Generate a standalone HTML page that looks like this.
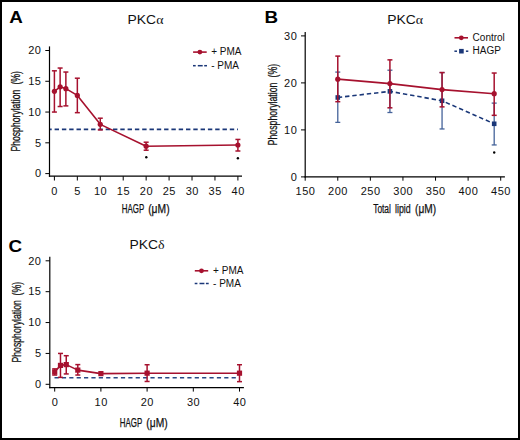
<!DOCTYPE html>
<html><head><meta charset="utf-8"><style>
html,body{margin:0;padding:0;background:#fff;}
body{width:520px;height:440px;overflow:hidden;}
svg{display:block;font-family:"Liberation Sans", sans-serif;}
</style></head><body>
<svg width="520" height="440" viewBox="0 0 520 440">
<rect x="0" y="0" width="520" height="440" fill="#fff"/>
<line x1="49.50" y1="46.40" x2="49.50" y2="176.80" stroke="#000" stroke-width="1.2" />
<line x1="48.90" y1="176.20" x2="242.00" y2="176.20" stroke="#000" stroke-width="1.2" />
<line x1="45.30" y1="173.60" x2="49.50" y2="173.60" stroke="#000" stroke-width="1.0" />
<text x="41.50" y="177.40" font-size="11" letter-spacing="0.5" text-anchor="end" fill="#111">0</text>
<line x1="45.30" y1="142.82" x2="49.50" y2="142.82" stroke="#000" stroke-width="1.0" />
<text x="41.50" y="146.62" font-size="11" letter-spacing="0.5" text-anchor="end" fill="#111">5</text>
<line x1="45.30" y1="112.05" x2="49.50" y2="112.05" stroke="#000" stroke-width="1.0" />
<text x="41.50" y="115.85" font-size="11" letter-spacing="0.5" text-anchor="end" fill="#111">10</text>
<line x1="45.30" y1="81.27" x2="49.50" y2="81.27" stroke="#000" stroke-width="1.0" />
<text x="41.50" y="85.07" font-size="11" letter-spacing="0.5" text-anchor="end" fill="#111">15</text>
<line x1="45.30" y1="50.50" x2="49.50" y2="50.50" stroke="#000" stroke-width="1.0" />
<text x="41.50" y="54.30" font-size="11" letter-spacing="0.5" text-anchor="end" fill="#111">20</text>
<line x1="54.40" y1="176.20" x2="54.40" y2="180.50" stroke="#000" stroke-width="1.0" />
<text x="54.65" y="194.90" font-size="11" letter-spacing="0.5" text-anchor="middle" fill="#111">0</text>
<line x1="77.34" y1="176.20" x2="77.34" y2="180.50" stroke="#000" stroke-width="1.0" />
<text x="77.59" y="194.90" font-size="11" letter-spacing="0.5" text-anchor="middle" fill="#111">5</text>
<line x1="100.28" y1="176.20" x2="100.28" y2="180.50" stroke="#000" stroke-width="1.0" />
<text x="100.53" y="194.90" font-size="11" letter-spacing="0.5" text-anchor="middle" fill="#111">10</text>
<line x1="123.21" y1="176.20" x2="123.21" y2="180.50" stroke="#000" stroke-width="1.0" />
<text x="123.46" y="194.90" font-size="11" letter-spacing="0.5" text-anchor="middle" fill="#111">15</text>
<line x1="146.15" y1="176.20" x2="146.15" y2="180.50" stroke="#000" stroke-width="1.0" />
<text x="146.40" y="194.90" font-size="11" letter-spacing="0.5" text-anchor="middle" fill="#111">20</text>
<line x1="169.09" y1="176.20" x2="169.09" y2="180.50" stroke="#000" stroke-width="1.0" />
<text x="169.34" y="194.90" font-size="11" letter-spacing="0.5" text-anchor="middle" fill="#111">25</text>
<line x1="192.03" y1="176.20" x2="192.03" y2="180.50" stroke="#000" stroke-width="1.0" />
<text x="192.28" y="194.90" font-size="11" letter-spacing="0.5" text-anchor="middle" fill="#111">30</text>
<line x1="214.96" y1="176.20" x2="214.96" y2="180.50" stroke="#000" stroke-width="1.0" />
<text x="215.21" y="194.90" font-size="11" letter-spacing="0.5" text-anchor="middle" fill="#111">35</text>
<line x1="237.90" y1="176.20" x2="237.90" y2="180.50" stroke="#000" stroke-width="1.0" />
<text x="238.15" y="194.90" font-size="11" letter-spacing="0.5" text-anchor="middle" fill="#111">40</text>
<text transform="translate(145.50,24.20) scale(1.07,1)" x="0" y="0" font-size="13" text-anchor="middle" font-weight="normal" fill="#111" >PKC<tspan font-family="Liberation Serif">&#945;</tspan></text>
<text x="121.75" y="213.00" font-size="12" font-weight="normal" textLength="22.50" lengthAdjust="spacingAndGlyphs" fill="#111" stroke="#111" stroke-width="0.25">HAGP</text>
<text x="148.20" y="213.00" font-size="12" font-weight="normal" textLength="21.40" lengthAdjust="spacingAndGlyphs" fill="#111" stroke="#111" stroke-width="0.25">(&#956;M)</text>
<g transform="translate(20.30,0) rotate(-90)"><text x="-151.50" y="0" font-size="12" font-weight="normal" textLength="61.70" lengthAdjust="spacingAndGlyphs" fill="#111" stroke="#111" stroke-width="0.25">Phosphorylation</text></g>
<g transform="translate(20.30,0) rotate(-90)"><text x="-84.60" y="0" font-size="12" font-weight="normal" textLength="13.60" lengthAdjust="spacingAndGlyphs" fill="#111" stroke="#111" stroke-width="0.25">(%)</text></g>
<text transform="translate(16.00,23.20) scale(1.14,1)" x="0" y="0" font-size="16.5" text-anchor="middle" font-weight="bold" fill="#000" >A</text>
<line x1="50.00" y1="129.40" x2="238.00" y2="129.40" stroke="#1a3778" stroke-width="1.6" stroke-dasharray="4.4,2.9" stroke-dashoffset="2.7"/>
<line x1="54.40" y1="70.81" x2="54.40" y2="112.05" stroke="#a6112e" stroke-width="1.5" />
<line x1="51.90" y1="70.81" x2="56.90" y2="70.81" stroke="#a6112e" stroke-width="1.5" />
<line x1="51.90" y1="112.05" x2="56.90" y2="112.05" stroke="#a6112e" stroke-width="1.5" />
<line x1="60.13" y1="68.04" x2="60.13" y2="106.51" stroke="#a6112e" stroke-width="1.5" />
<line x1="57.63" y1="68.04" x2="62.63" y2="68.04" stroke="#a6112e" stroke-width="1.5" />
<line x1="57.63" y1="106.51" x2="62.63" y2="106.51" stroke="#a6112e" stroke-width="1.5" />
<line x1="65.87" y1="72.04" x2="65.87" y2="105.89" stroke="#a6112e" stroke-width="1.5" />
<line x1="63.37" y1="72.04" x2="68.37" y2="72.04" stroke="#a6112e" stroke-width="1.5" />
<line x1="63.37" y1="105.89" x2="68.37" y2="105.89" stroke="#a6112e" stroke-width="1.5" />
<line x1="77.34" y1="78.20" x2="77.34" y2="112.67" stroke="#a6112e" stroke-width="1.5" />
<line x1="74.84" y1="78.20" x2="79.84" y2="78.20" stroke="#a6112e" stroke-width="1.5" />
<line x1="74.84" y1="112.67" x2="79.84" y2="112.67" stroke="#a6112e" stroke-width="1.5" />
<line x1="100.28" y1="118.20" x2="100.28" y2="129.90" stroke="#a6112e" stroke-width="1.5" />
<line x1="97.78" y1="118.20" x2="102.78" y2="118.20" stroke="#a6112e" stroke-width="1.5" />
<line x1="97.78" y1="129.90" x2="102.78" y2="129.90" stroke="#a6112e" stroke-width="1.5" />
<line x1="146.15" y1="142.21" x2="146.15" y2="150.21" stroke="#a6112e" stroke-width="1.5" />
<line x1="143.65" y1="142.21" x2="148.65" y2="142.21" stroke="#a6112e" stroke-width="1.5" />
<line x1="143.65" y1="150.21" x2="148.65" y2="150.21" stroke="#a6112e" stroke-width="1.5" />
<line x1="237.90" y1="139.44" x2="237.90" y2="151.01" stroke="#a6112e" stroke-width="1.5" />
<line x1="235.40" y1="139.44" x2="240.40" y2="139.44" stroke="#a6112e" stroke-width="1.5" />
<line x1="235.40" y1="151.01" x2="240.40" y2="151.01" stroke="#a6112e" stroke-width="1.5" />
<polyline points="54.40,91.31 60.13,86.81 65.87,88.66 77.34,95.43 100.28,124.36 146.15,146.21 237.90,144.98" fill="none" stroke="#a6112e" stroke-width="1.6" stroke-linejoin="round" />
<circle cx="54.40" cy="91.31" r="2.6" fill="#a6112e"/>
<circle cx="60.13" cy="86.81" r="2.6" fill="#a6112e"/>
<circle cx="65.87" cy="88.66" r="2.6" fill="#a6112e"/>
<circle cx="77.34" cy="95.43" r="2.6" fill="#a6112e"/>
<circle cx="100.28" cy="124.36" r="2.6" fill="#a6112e"/>
<circle cx="146.15" cy="146.21" r="2.6" fill="#a6112e"/>
<circle cx="237.90" cy="144.98" r="2.6" fill="#a6112e"/>
<circle cx="146.30" cy="157.30" r="1.2" fill="#000"/>
<circle cx="237.90" cy="158.30" r="1.2" fill="#000"/>
<line x1="193.10" y1="52.10" x2="206.70" y2="52.10" stroke="#a6112e" stroke-width="1.6" />
<circle cx="199.9" cy="52.1" r="2.4" fill="#a6112e"/>
<text x="211.20" y="55.40" font-size="10" text-anchor="start" font-weight="normal" fill="#111" >+ PMA</text>
<line x1="193.00" y1="65.70" x2="195.70" y2="65.70" stroke="#1a3778" stroke-width="1.5" />
<line x1="197.80" y1="65.70" x2="202.70" y2="65.70" stroke="#1a3778" stroke-width="1.5" />
<line x1="204.20" y1="65.70" x2="207.00" y2="65.70" stroke="#1a3778" stroke-width="1.5" />
<text x="211.20" y="68.90" font-size="10" text-anchor="start" font-weight="normal" fill="#111" >- PMA</text>
<line x1="305.20" y1="32.00" x2="305.20" y2="177.50" stroke="#000" stroke-width="1.2" />
<line x1="304.60" y1="176.90" x2="504.90" y2="176.90" stroke="#000" stroke-width="1.2" />
<line x1="301.00" y1="176.90" x2="305.20" y2="176.90" stroke="#000" stroke-width="1.0" />
<text x="297.30" y="180.70" font-size="11" letter-spacing="0.5" text-anchor="end" fill="#111">0</text>
<line x1="301.00" y1="129.90" x2="305.20" y2="129.90" stroke="#000" stroke-width="1.0" />
<text x="297.30" y="133.70" font-size="11" letter-spacing="0.5" text-anchor="end" fill="#111">10</text>
<line x1="301.00" y1="82.90" x2="305.20" y2="82.90" stroke="#000" stroke-width="1.0" />
<text x="297.30" y="86.70" font-size="11" letter-spacing="0.5" text-anchor="end" fill="#111">20</text>
<line x1="301.00" y1="35.90" x2="305.20" y2="35.90" stroke="#000" stroke-width="1.0" />
<text x="297.30" y="39.70" font-size="11" letter-spacing="0.5" text-anchor="end" fill="#111">30</text>
<line x1="305.20" y1="176.90" x2="305.20" y2="180.70" stroke="#000" stroke-width="1.0" />
<text x="305.45" y="195.10" font-size="11" letter-spacing="0.5" text-anchor="middle" fill="#111">150</text>
<line x1="337.78" y1="176.90" x2="337.78" y2="180.70" stroke="#000" stroke-width="1.0" />
<text x="338.03" y="195.10" font-size="11" letter-spacing="0.5" text-anchor="middle" fill="#111">200</text>
<line x1="370.37" y1="176.90" x2="370.37" y2="180.70" stroke="#000" stroke-width="1.0" />
<text x="370.62" y="195.10" font-size="11" letter-spacing="0.5" text-anchor="middle" fill="#111">250</text>
<line x1="402.95" y1="176.90" x2="402.95" y2="180.70" stroke="#000" stroke-width="1.0" />
<text x="403.20" y="195.10" font-size="11" letter-spacing="0.5" text-anchor="middle" fill="#111">300</text>
<line x1="435.54" y1="176.90" x2="435.54" y2="180.70" stroke="#000" stroke-width="1.0" />
<text x="435.79" y="195.10" font-size="11" letter-spacing="0.5" text-anchor="middle" fill="#111">350</text>
<line x1="468.12" y1="176.90" x2="468.12" y2="180.70" stroke="#000" stroke-width="1.0" />
<text x="468.38" y="195.10" font-size="11" letter-spacing="0.5" text-anchor="middle" fill="#111">400</text>
<line x1="500.71" y1="176.90" x2="500.71" y2="180.70" stroke="#000" stroke-width="1.0" />
<text x="500.96" y="195.10" font-size="11" letter-spacing="0.5" text-anchor="middle" fill="#111">450</text>
<text transform="translate(405.20,24.40) scale(1.07,1)" x="0" y="0" font-size="13" text-anchor="middle" font-weight="normal" fill="#111" >PKC<tspan font-family="Liberation Serif">&#945;</tspan></text>
<text x="373.20" y="213.10" font-size="12" font-weight="normal" textLength="17.70" lengthAdjust="spacingAndGlyphs" fill="#111" stroke="#111" stroke-width="0.25">Total</text>
<text x="395.00" y="213.10" font-size="12" font-weight="normal" textLength="15.70" lengthAdjust="spacingAndGlyphs" fill="#111" stroke="#111" stroke-width="0.25">lipid</text>
<text x="415.10" y="213.10" font-size="12" font-weight="normal" textLength="21.00" lengthAdjust="spacingAndGlyphs" fill="#111" stroke="#111" stroke-width="0.25">(&#956;M)</text>
<g transform="translate(276.70,0) rotate(-90)"><text x="-145.40" y="0" font-size="12" font-weight="normal" textLength="62.90" lengthAdjust="spacingAndGlyphs" fill="#111" stroke="#111" stroke-width="0.25">Phosphorylation</text></g>
<g transform="translate(276.70,0) rotate(-90)"><text x="-77.50" y="0" font-size="12" font-weight="normal" textLength="13.60" lengthAdjust="spacingAndGlyphs" fill="#111" stroke="#111" stroke-width="0.25">(%)</text></g>
<text transform="translate(271.40,23.20) scale(1.14,1)" x="0" y="0" font-size="16.5" text-anchor="middle" font-weight="bold" fill="#000" >B</text>
<line x1="337.78" y1="72.09" x2="337.78" y2="122.38" stroke="#45639a" stroke-width="1.3" />
<line x1="335.28" y1="72.09" x2="340.28" y2="72.09" stroke="#45639a" stroke-width="1.3" />
<line x1="335.28" y1="122.38" x2="340.28" y2="122.38" stroke="#45639a" stroke-width="1.3" />
<line x1="389.92" y1="70.21" x2="389.92" y2="112.51" stroke="#45639a" stroke-width="1.3" />
<line x1="387.42" y1="70.21" x2="392.42" y2="70.21" stroke="#45639a" stroke-width="1.3" />
<line x1="387.42" y1="112.51" x2="392.42" y2="112.51" stroke="#45639a" stroke-width="1.3" />
<line x1="442.06" y1="72.56" x2="442.06" y2="128.96" stroke="#45639a" stroke-width="1.3" />
<line x1="439.56" y1="72.56" x2="444.56" y2="72.56" stroke="#45639a" stroke-width="1.3" />
<line x1="439.56" y1="128.96" x2="444.56" y2="128.96" stroke="#45639a" stroke-width="1.3" />
<line x1="494.19" y1="103.11" x2="494.19" y2="144.94" stroke="#45639a" stroke-width="1.3" />
<line x1="491.69" y1="103.11" x2="496.69" y2="103.11" stroke="#45639a" stroke-width="1.3" />
<line x1="491.69" y1="144.94" x2="496.69" y2="144.94" stroke="#45639a" stroke-width="1.3" />
<polyline points="337.78,97.47 389.92,91.36 442.06,100.76 494.19,123.79" fill="none" stroke="#1a3778" stroke-width="1.6" stroke-linejoin="round" stroke-dasharray="4.4,2.9"/>
<rect x="335.48" y="95.17" width="4.6" height="4.6" fill="#1a3778"/>
<rect x="387.62" y="89.06" width="4.6" height="4.6" fill="#1a3778"/>
<rect x="439.76" y="98.46" width="4.6" height="4.6" fill="#1a3778"/>
<rect x="491.89" y="121.49" width="4.6" height="4.6" fill="#1a3778"/>
<line x1="337.78" y1="56.11" x2="337.78" y2="101.70" stroke="#a6112e" stroke-width="1.5" />
<line x1="335.28" y1="56.11" x2="340.28" y2="56.11" stroke="#a6112e" stroke-width="1.5" />
<line x1="335.28" y1="101.70" x2="340.28" y2="101.70" stroke="#a6112e" stroke-width="1.5" />
<line x1="389.92" y1="59.87" x2="389.92" y2="107.81" stroke="#a6112e" stroke-width="1.5" />
<line x1="387.42" y1="59.87" x2="392.42" y2="59.87" stroke="#a6112e" stroke-width="1.5" />
<line x1="387.42" y1="107.81" x2="392.42" y2="107.81" stroke="#a6112e" stroke-width="1.5" />
<line x1="442.06" y1="72.56" x2="442.06" y2="106.87" stroke="#a6112e" stroke-width="1.5" />
<line x1="439.56" y1="72.56" x2="444.56" y2="72.56" stroke="#a6112e" stroke-width="1.5" />
<line x1="439.56" y1="106.87" x2="444.56" y2="106.87" stroke="#a6112e" stroke-width="1.5" />
<line x1="494.19" y1="73.03" x2="494.19" y2="115.33" stroke="#a6112e" stroke-width="1.5" />
<line x1="491.69" y1="73.03" x2="496.69" y2="73.03" stroke="#a6112e" stroke-width="1.5" />
<line x1="491.69" y1="115.33" x2="496.69" y2="115.33" stroke="#a6112e" stroke-width="1.5" />
<polyline points="337.78,79.14 389.92,83.60 442.06,89.62 494.19,93.71" fill="none" stroke="#a6112e" stroke-width="1.6" stroke-linejoin="round" />
<circle cx="337.78" cy="79.14" r="2.6" fill="#a6112e"/>
<circle cx="389.92" cy="83.60" r="2.6" fill="#a6112e"/>
<circle cx="442.06" cy="89.62" r="2.6" fill="#a6112e"/>
<circle cx="494.19" cy="93.71" r="2.6" fill="#a6112e"/>
<circle cx="494.20" cy="152.50" r="1.2" fill="#000"/>
<line x1="454.50" y1="37.80" x2="468.00" y2="37.80" stroke="#a6112e" stroke-width="1.6" />
<circle cx="461.3" cy="37.8" r="2.4" fill="#a6112e"/>
<text x="472.60" y="40.90" font-size="10" text-anchor="start" font-weight="normal" fill="#111" >Control</text>
<line x1="454.40" y1="51.20" x2="457.00" y2="51.20" stroke="#1a3778" stroke-width="1.5" />
<line x1="465.90" y1="51.20" x2="468.30" y2="51.20" stroke="#1a3778" stroke-width="1.5" />
<rect x="459.1" y="48.9" width="4.6" height="4.6" fill="#1a3778"/>
<text x="472.60" y="54.30" font-size="10" text-anchor="start" font-weight="normal" fill="#111" >HAGP</text>
<line x1="49.80" y1="256.70" x2="49.80" y2="388.30" stroke="#000" stroke-width="1.2" />
<line x1="49.20" y1="387.70" x2="243.90" y2="387.70" stroke="#000" stroke-width="1.2" />
<line x1="45.60" y1="384.30" x2="49.80" y2="384.30" stroke="#000" stroke-width="1.0" />
<text x="41.50" y="388.10" font-size="11" letter-spacing="0.5" text-anchor="end" fill="#111">0</text>
<line x1="45.60" y1="353.43" x2="49.80" y2="353.43" stroke="#000" stroke-width="1.0" />
<text x="41.50" y="357.23" font-size="11" letter-spacing="0.5" text-anchor="end" fill="#111">5</text>
<line x1="45.60" y1="322.55" x2="49.80" y2="322.55" stroke="#000" stroke-width="1.0" />
<text x="41.50" y="326.35" font-size="11" letter-spacing="0.5" text-anchor="end" fill="#111">10</text>
<line x1="45.60" y1="291.68" x2="49.80" y2="291.68" stroke="#000" stroke-width="1.0" />
<text x="41.50" y="295.48" font-size="11" letter-spacing="0.5" text-anchor="end" fill="#111">15</text>
<line x1="45.60" y1="260.80" x2="49.80" y2="260.80" stroke="#000" stroke-width="1.0" />
<text x="41.50" y="264.60" font-size="11" letter-spacing="0.5" text-anchor="end" fill="#111">20</text>
<line x1="54.70" y1="387.70" x2="54.70" y2="391.60" stroke="#000" stroke-width="1.0" />
<text x="54.95" y="405.90" font-size="11" letter-spacing="0.5" text-anchor="middle" fill="#111">0</text>
<line x1="100.90" y1="387.70" x2="100.90" y2="391.60" stroke="#000" stroke-width="1.0" />
<text x="101.15" y="405.90" font-size="11" letter-spacing="0.5" text-anchor="middle" fill="#111">10</text>
<line x1="147.10" y1="387.70" x2="147.10" y2="391.60" stroke="#000" stroke-width="1.0" />
<text x="147.35" y="405.90" font-size="11" letter-spacing="0.5" text-anchor="middle" fill="#111">20</text>
<line x1="193.30" y1="387.70" x2="193.30" y2="391.60" stroke="#000" stroke-width="1.0" />
<text x="193.55" y="405.90" font-size="11" letter-spacing="0.5" text-anchor="middle" fill="#111">30</text>
<line x1="239.50" y1="387.70" x2="239.50" y2="391.60" stroke="#000" stroke-width="1.0" />
<text x="239.75" y="405.90" font-size="11" letter-spacing="0.5" text-anchor="middle" fill="#111">40</text>
<text transform="translate(147.00,248.90) scale(1.07,1)" x="0" y="0" font-size="13" text-anchor="middle" font-weight="normal" fill="#111" >PKC<tspan font-family="Liberation Serif">&#948;</tspan></text>
<text x="119.75" y="426.70" font-size="12" font-weight="normal" textLength="22.50" lengthAdjust="spacingAndGlyphs" fill="#111" stroke="#111" stroke-width="0.25">HAGP</text>
<text x="146.35" y="426.70" font-size="12" font-weight="normal" textLength="21.35" lengthAdjust="spacingAndGlyphs" fill="#111" stroke="#111" stroke-width="0.25">(&#956;M)</text>
<g transform="translate(20.60,0) rotate(-90)"><text x="-362.60" y="0" font-size="12" font-weight="normal" textLength="62.50" lengthAdjust="spacingAndGlyphs" fill="#111" stroke="#111" stroke-width="0.25">Phosphorylation</text></g>
<g transform="translate(20.60,0) rotate(-90)"><text x="-295.50" y="0" font-size="12" font-weight="normal" textLength="13.60" lengthAdjust="spacingAndGlyphs" fill="#111" stroke="#111" stroke-width="0.25">(%)</text></g>
<text transform="translate(15.40,251.50) scale(1.14,1)" x="0" y="0" font-size="16.5" text-anchor="middle" font-weight="bold" fill="#000" >C</text>
<line x1="54.50" y1="377.80" x2="238.00" y2="377.80" stroke="#2a4884" stroke-width="1.6" stroke-dasharray="4.2,3.18"/>
<line x1="54.70" y1="368.86" x2="54.70" y2="375.04" stroke="#a6112e" stroke-width="1.5" />
<line x1="52.20" y1="368.86" x2="57.20" y2="368.86" stroke="#a6112e" stroke-width="1.5" />
<line x1="52.20" y1="375.04" x2="57.20" y2="375.04" stroke="#a6112e" stroke-width="1.5" />
<line x1="60.48" y1="353.43" x2="60.48" y2="377.38" stroke="#a6112e" stroke-width="1.5" />
<line x1="57.98" y1="353.43" x2="62.98" y2="353.43" stroke="#a6112e" stroke-width="1.5" />
<line x1="57.98" y1="377.38" x2="62.98" y2="377.38" stroke="#a6112e" stroke-width="1.5" />
<line x1="66.25" y1="355.71" x2="66.25" y2="373.93" stroke="#a6112e" stroke-width="1.5" />
<line x1="63.75" y1="355.71" x2="68.75" y2="355.71" stroke="#a6112e" stroke-width="1.5" />
<line x1="63.75" y1="373.93" x2="68.75" y2="373.93" stroke="#a6112e" stroke-width="1.5" />
<line x1="77.80" y1="364.60" x2="77.80" y2="375.04" stroke="#a6112e" stroke-width="1.5" />
<line x1="75.30" y1="364.60" x2="80.30" y2="364.60" stroke="#a6112e" stroke-width="1.5" />
<line x1="75.30" y1="375.04" x2="80.30" y2="375.04" stroke="#a6112e" stroke-width="1.5" />
<line x1="147.10" y1="364.73" x2="147.10" y2="381.46" stroke="#a6112e" stroke-width="1.5" />
<line x1="144.60" y1="364.73" x2="149.60" y2="364.73" stroke="#a6112e" stroke-width="1.5" />
<line x1="144.60" y1="381.46" x2="149.60" y2="381.46" stroke="#a6112e" stroke-width="1.5" />
<line x1="239.50" y1="364.73" x2="239.50" y2="381.64" stroke="#a6112e" stroke-width="1.5" />
<line x1="237.00" y1="364.73" x2="242.00" y2="364.73" stroke="#a6112e" stroke-width="1.5" />
<line x1="237.00" y1="381.64" x2="242.00" y2="381.64" stroke="#a6112e" stroke-width="1.5" />
<polyline points="54.70,371.95 60.48,365.40 66.25,364.60 77.80,370.10 100.90,373.62 147.10,373.19 239.50,373.19" fill="none" stroke="#a6112e" stroke-width="1.6" stroke-linejoin="round" />
<rect x="52.10" y="369.35" width="5.2" height="5.2" fill="#a6112e"/>
<rect x="57.88" y="362.80" width="5.2" height="5.2" fill="#a6112e"/>
<rect x="63.65" y="362.00" width="5.2" height="5.2" fill="#a6112e"/>
<rect x="75.20" y="367.50" width="5.2" height="5.2" fill="#a6112e"/>
<rect x="98.30" y="371.02" width="5.2" height="5.2" fill="#a6112e"/>
<rect x="144.50" y="370.58" width="5.2" height="5.2" fill="#a6112e"/>
<rect x="236.90" y="370.58" width="5.2" height="5.2" fill="#a6112e"/>
<line x1="194.80" y1="270.80" x2="208.20" y2="270.80" stroke="#a6112e" stroke-width="1.6" />
<circle cx="201.5" cy="270.8" r="2.4" fill="#a6112e"/>
<text x="213.10" y="274.00" font-size="10" text-anchor="start" font-weight="normal" fill="#111" >+ PMA</text>
<line x1="194.70" y1="283.50" x2="197.40" y2="283.50" stroke="#1a3778" stroke-width="1.5" />
<line x1="199.50" y1="283.50" x2="204.40" y2="283.50" stroke="#1a3778" stroke-width="1.5" />
<line x1="205.90" y1="283.50" x2="208.70" y2="283.50" stroke="#1a3778" stroke-width="1.5" />
<text x="213.10" y="286.90" font-size="10" text-anchor="start" font-weight="normal" fill="#111" >- PMA</text>
<rect x="1" y="1" width="518" height="438" fill="none" stroke="#000" stroke-width="2"/>
</svg>
</body></html>
